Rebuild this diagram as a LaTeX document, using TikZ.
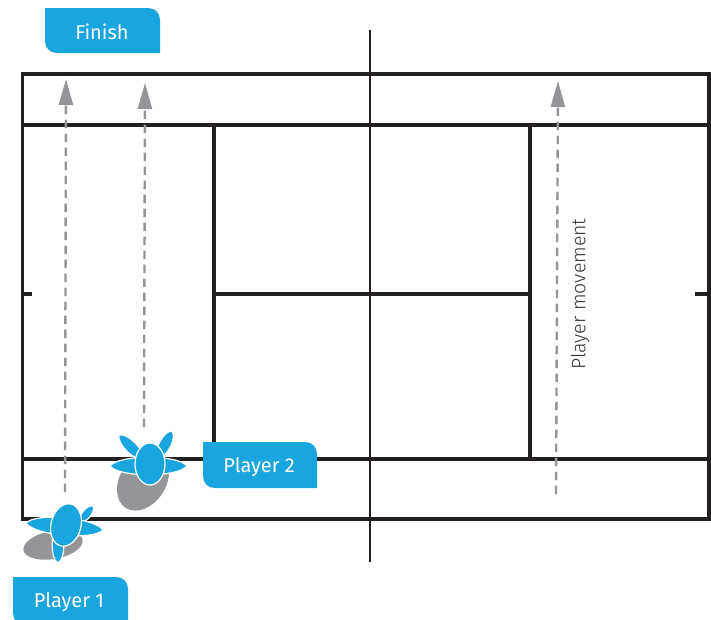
\documentclass[tikz,border=0pt]{standalone}
\usepackage{fontspec}
\setmainfont{Fira Sans}
\newfontfamily\lightfont{Fira Sans Light}
\usetikzlibrary{arrows.meta}
\definecolor{tagblue}{HTML}{19A5DE}
\definecolor{shadowgrey}{HTML}{939598}
\definecolor{courtline}{HTML}{231F20}
\tikzset{
  court/.style={draw=courtline,line width=3.6pt},
  netline/.style={draw=courtline,line width=1.8pt},
  move/.style={draw=shadowgrey,line width=2.4pt,dash pattern=on 8.5pt off 5.5pt,
    -{Triangle[length=26pt,width=14pt,fill=shadowgrey]}},
  tagtext/.style={text=white,font=\fontsize{20}{22}\selectfont,inner sep=0pt},
  bodypart/.style={fill=tagblue,draw=white,line width=1.2pt},
  shade/.style={fill=shadowgrey,draw=none},
  tag/.style={fill=tagblue,draw=none},
}
\newcommand{\tagshape}[4]{% x0,y0,x1,y1
  \path[tag] (#1,#2) -- (#3-12,#2) .. controls (#3-5,#2) and (#3,#2+5) .. (#3,#2+12)
    -- (#3,#4) -- (#1+12,#4) .. controls (#1+5,#4) and (#1,#4-5) .. (#1,#4-12) -- cycle;}
\newcommand{\leaf}[5]{% from (#1,#2) to (#3,#4), half-width #5
  \pgfmathsetmacro{\dx}{#3-#1}
  \pgfmathsetmacro{\dy}{#4-#2}
  \pgfmathsetmacro{\len}{veclen(\dx,\dy)}
  \pgfmathsetmacro{\nx}{-\dy/\len*#5*1.3}
  \pgfmathsetmacro{\ny}{\dx/\len*#5*1.3}
  \path[bodypart] (#1,#2) .. controls (#1+0.12*\dx+\nx,#2+0.12*\dy+\ny) and (#1+0.88*\dx+\nx,#2+0.88*\dy+\ny) .. (#3,#4)
     .. controls (#1+0.88*\dx-\nx,#2+0.88*\dy-\ny) and (#1+0.12*\dx-\nx,#2+0.12*\dy-\ny) .. (#1,#2) -- cycle;}
\begin{document}
\begin{tikzpicture}[x=1pt,y=-1pt]
\useasboundingbox (0,0) rectangle (711,619);
% court
\coordinate (nl) at (22.5,74); \coordinate (nr) at (709,519);
\coordinate (tl) at (22.5,125); \coordinate (tr) at (709,125);
\coordinate (bl) at (22.5,459); \coordinate (br) at (709,459);
\coordinate (v1t) at (214,125); \coordinate (v1b) at (214,459);
\coordinate (v2t) at (530,125); \coordinate (v2b) at (530,459);
\coordinate (cl) at (214,294); \coordinate (cr) at (530,294);
\coordinate (netT) at (370,30); \coordinate (netB) at (370,562);
\coordinate (tickLa) at (22.5,294); \coordinate (tickLb) at (32,294);
\coordinate (tickRa) at (695,294); \coordinate (tickRb) at (709,294);
\draw[court] (nl) rectangle (nr);
\draw[court] (tl) -- (tr);
\draw[court] (bl) -- (br);
\draw[court] (v1t) -- (v1b);
\draw[court] (v2t) -- (v2b);
\draw[court] (cl) -- (cr);
\draw[court] (tickLa) -- (tickLb);
\draw[court] (tickRa) -- (tickRb);
\draw[netline] (netT) -- (netB);
% movement arrows
\coordinate (a1s) at (65,492); \coordinate (a1e) at (66,79);
\coordinate (a2s) at (144,427); \coordinate (a2e) at (145,83);
\coordinate (a3s) at (556,494); \coordinate (a3e) at (558,81);
\draw[move] (a1s) -- (a1e);
\draw[move] (a2s) -- (a2e);
\draw[move] (a3s) -- (a3e);
\node[rotate=90,font=\lightfont\fontsize{19.5}{22}\selectfont,text=courtline!90,inner sep=0pt] (movelabel) at (580,294) {Player movement};
% player 2
\path[shade] (143,481) ellipse[x radius=23,y radius=32,rotate=-33];
\leaf{143}{459}{119}{435}{6}
\leaf{158}{458}{172}{431}{6}
\leaf{110}{466}{187}{466}{9}
\path[bodypart] (150,464) ellipse[x radius=15,y radius=21];
% player 1
\path[shade] (53,545) ellipse[x radius=30,y radius=14,rotate=10];
\leaf{80}{522}{93}{506}{4.5}
\leaf{58}{528}{58}{563}{6}
\leaf{26}{523}{103}{530}{9}
\path[bodypart] (66,525) ellipse[x radius=15,y radius=21.5,rotate=-14];
% tags
\tagshape{45}{8}{160}{53}
\node[tagtext] (finish) at (102,32) {Finish};
\tagshape{203}{442}{317}{488}
\node[tagtext] (p2) at (259,467) {Player 2};
\tagshape{13}{577}{128}{625}
\node[tagtext] (p1) at (69,602) {Player 1};
\end{tikzpicture}
\end{document}
